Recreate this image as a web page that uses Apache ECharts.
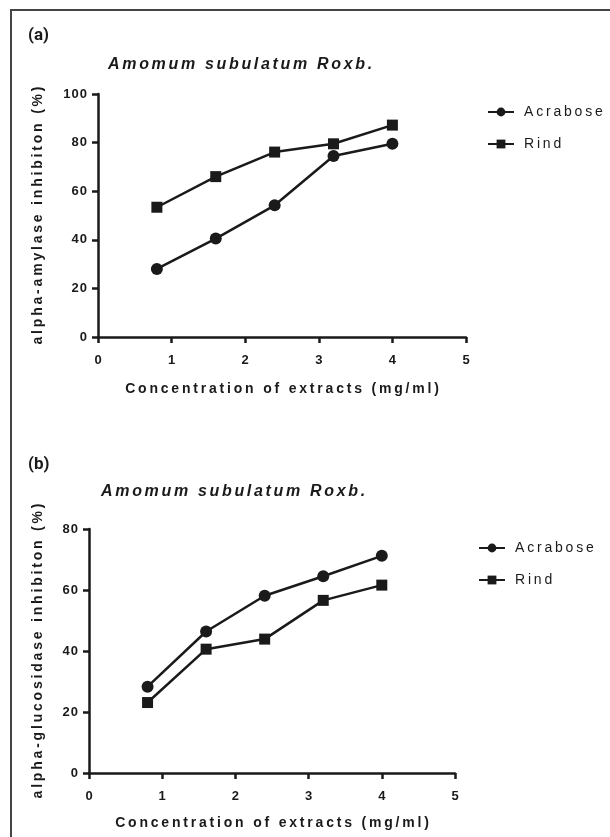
<!DOCTYPE html>
<html>
<head>
<meta charset="utf-8">
<script src="https://cdn.jsdelivr.net/npm/echarts@6/dist/echarts.min.js"></script>
<style>
  html, body { margin: 0; padding: 0; background: #fff; }
  #chart { width: 610px; height: 837px; }
</style>
</head>
<body>
<div id="chart"></div>
<script>
// concentrations (mg/ml)
var conc = [0.8, 1.6, 2.4, 3.2, 4.0];
// (a) alpha-amylase inhibition (%)
var amylaseAcrabose = [28, 40.5, 54.2, 74.5, 79.5];
var amylaseRind = [53.4, 66, 76.1, 79.5, 87.2];
// (b) alpha-glucosidase inhibition (%)
var glucAcrabose = [28.3, 46.4, 58.1, 64.5, 71.2];
var glucRind = [23.1, 40.6, 43.9, 56.6, 61.6];
var seriesNames = ['Acrabose', 'Rind'];

// the original text is drawn letter-spaced
function spread(s, gap) {
    return s.split(' ').map(function (w) {
        return w.split('').join(gap);
    }).join(gap + ' ' + gap);
}

function pairs(xs, ys) {
    var out = [];
    for (var i = 0; i < xs.length; i++) out.push([xs[i], ys[i]]);
    return out;
}

var ink = '#1a1a1a';
var font = 'Liberation Sans';
var thin = '\u2009';
var hair = '\u200A';

var chart = echarts.init(document.getElementById('chart'));

function xAxisFor(idx, nameGap) {
    return {
        gridIndex: idx, type: 'value', min: 0, max: 5, interval: 1,
        name: spread('Concentration of extracts (mg/ml)', thin),
        nameLocation: 'middle', nameGap: nameGap,
        nameTextStyle: { color: ink, fontFamily: font, fontWeight: 'bold', fontSize: 14 },
        axisLine: { show: true, onZero: false, lineStyle: { color: ink, width: 2.5 } },
        axisTick: { show: true, length: 6, lineStyle: { color: ink, width: 2.5 } },
        axisLabel: { color: ink, fontFamily: font, fontWeight: 'bold', fontSize: 13, margin: 17 },
        splitLine: { show: false }
    };
}

function yAxisFor(idx, max, name, nameGap) {
    return {
        gridIndex: idx, type: 'value', min: 0, max: max, interval: 20,
        name: spread(name, thin),
        nameLocation: 'middle', nameGap: nameGap,
        nameTextStyle: { color: ink, fontFamily: font, fontWeight: 'bold', fontSize: 14 },
        axisLine: { show: true, lineStyle: { color: ink, width: 2.5 } },
        axisTick: { show: true, length: 6, lineStyle: { color: ink, width: 2.5 } },
        axisLabel: {
            color: ink, fontFamily: font, fontWeight: 'bold', fontSize: 13, margin: 11,
            formatter: function (v) { return String(v).split('').join(hair); }
        },
        splitLine: { show: false }
    };
}

function lineSeries(name, idx, data, symbol, size) {
    return {
        name: name, type: 'line', xAxisIndex: idx, yAxisIndex: idx,
        data: data, symbol: symbol, symbolSize: size,
        lineStyle: { color: ink, width: 2.5 },
        itemStyle: { color: ink },
        animation: false
    };
}

function legendFor(left, top) {
    return {
        orient: 'vertical', left: left, top: top, itemGap: 18,
        itemWidth: 26, itemHeight: 11,
        formatter: function (n) { return spread(n, thin); },
        textStyle: { color: ink, fontFamily: font, fontSize: 14, padding: [0, 0, 0, 5] },
        data: seriesNames
    };
}

var titleStyle = { color: ink, fontFamily: font, fontWeight: 'bold', fontStyle: 'italic', fontSize: 16 };
var tagStyle = { color: ink, fontFamily: 'Roboto', fontWeight: 'bold', fontSize: 17 };

var option = {
    backgroundColor: '#fff',
    animation: false,
    title: [
        { text: '(a)', left: 23, top: 22, textStyle: tagStyle },
        { text: spread('Amomum subulatum Roxb.', hair + hair), left: 103, top: 52, textStyle: titleStyle },
        { text: '(b)', left: 23, top: 451, textStyle: tagStyle },
        { text: spread('Amomum subulatum Roxb.', hair + hair), left: 96, top: 479, textStyle: titleStyle }
    ],
    legend: [legendFor(482, 100), legendFor(473, 536)],
    grid: [
        { left: 98, top: 94, width: 368, height: 243 },
        { left: 89, top: 529, width: 366, height: 244 }
    ],
    xAxis: [xAxisFor(0, 45), xAxisFor(1, 43)],
    yAxis: [
        yAxisFor(0, 100, 'alpha-amylase inhibiton (%)', 53),
        yAxisFor(1, 80, 'alpha-glucosidase inhibiton (%)', 44)
    ],
    series: [
        lineSeries('Acrabose', 0, pairs(conc, amylaseAcrabose), 'circle', 12),
        lineSeries('Rind', 0, pairs(conc, amylaseRind), 'rect', 11),
        lineSeries('Acrabose', 1, pairs(conc, glucAcrabose), 'circle', 12),
        lineSeries('Rind', 1, pairs(conc, glucRind), 'rect', 11)
    ],
    graphic: [
        // figure frame: left and top edges
        { type: 'polyline', shape: { points: [[11, 837], [11, 10], [610, 10]] },
          style: { stroke: '#444', lineWidth: 2, fill: null }, silent: true }
    ]
};
chart.setOption(option);
</script>
</body>
</html>
